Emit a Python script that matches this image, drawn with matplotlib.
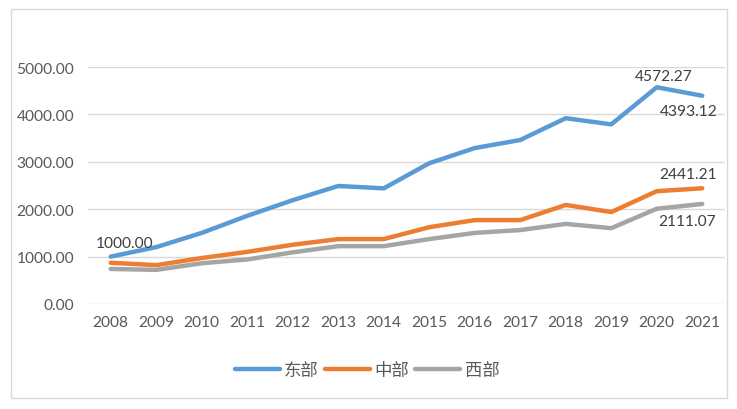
import matplotlib.pyplot as plt
from matplotlib.patches import Rectangle

plt.rcParams['font.family'] = ['Lato', 'Noto Sans CJK SC', 'DejaVu Sans']

# data
years = [str(y) for y in range(2008, 2022)]
east = [1000.00, 1200, 1500, 1860, 2190, 2490, 2440, 2970, 3290, 3460, 3920, 3790, 4572.27, 4393.12]
central = [870, 820, 970, 1100, 1250, 1370, 1370, 1620, 1770, 1770, 2090, 1940, 2380, 2441.21]
west = [740, 720, 860, 940, 1090, 1220, 1220, 1370, 1500, 1560, 1690, 1600, 2010, 2111.07]
series_names = ['东部', '中部', '西部']
yticks = [0, 1000, 2000, 3000, 4000, 5000]

colors = ['#5B9BD5', '#ED7D31', '#A5A5A5']
text_color = '#595959'

fig = plt.figure(figsize=(7.37, 4.10), dpi=100)

# outer chart frame
fig.patches.append(Rectangle((11 / 737, 1 - 399 / 410), 716 / 737, 389 / 410,
                             transform=fig.transFigure, fill=False,
                             edgecolor='#D9D9D9', linewidth=1.0, zorder=0))

ax = fig.add_axes([88 / 737, 1 - 305 / 410, 637 / 737, 237 / 410])
ax.patch.set_alpha(0)

x = range(len(years))
for vals, name, c in zip([east, central, west], series_names, colors):
    ax.plot(x, vals, color=c, linewidth=3.2, label=name, solid_capstyle='round')

ax.set_xlim(-0.5, len(years) - 0.5)
ax.set_ylim(0, 5000)
ax.set_xticks(list(x))
ax.set_xticklabels(years)
ax.set_yticks(yticks)
ax.set_yticklabels([f'{v:.2f}' for v in yticks])
ax.tick_params(axis='both', length=0, labelsize=11.2, colors=text_color)
ax.tick_params(axis='x', pad=8)
ax.tick_params(axis='y', pad=10)
ax.grid(axis='y', color='#D9D9D9', linewidth=1.0)
ax.set_axisbelow(True)
for s in ax.spines.values():
    s.set_visible(False)

# data labels
lab = dict(fontsize=11.2, color='#404040', ha='center')
ax.annotate(f'{east[0]:.2f}', (0, east[0]), xytext=(10, 5), textcoords='offset points', va='bottom', **lab)
ax.annotate(f'{east[12]:.2f}', (12, east[12]), xytext=(5, 3), textcoords='offset points', va='bottom', **lab)
ax.annotate(f'{east[13]:.2f}', (13, east[13]), xytext=(-10, -6), textcoords='offset points', va='top', **lab)
ax.annotate(f'{central[13]:.2f}', (13, central[13]), xytext=(-10, 5), textcoords='offset points', va='bottom', **lab)
ax.annotate(f'{west[13]:.2f}', (13, west[13]), xytext=(-11, -7), textcoords='offset points', va='top', **lab)

leg = ax.legend(loc='center', bbox_to_anchor=(367 / 737, 1 - 371 / 410),
                bbox_transform=fig.transFigure, ncol=3, frameon=False,
                handlelength=2.6, handletextpad=0.25, columnspacing=0.35,
                prop={'family': ['Noto Sans CJK SC'], 'size': 12.5, 'weight': 'light'})
for t in leg.get_texts():
    t.set_color(text_color)

plt.savefig('out.png', dpi=100)
